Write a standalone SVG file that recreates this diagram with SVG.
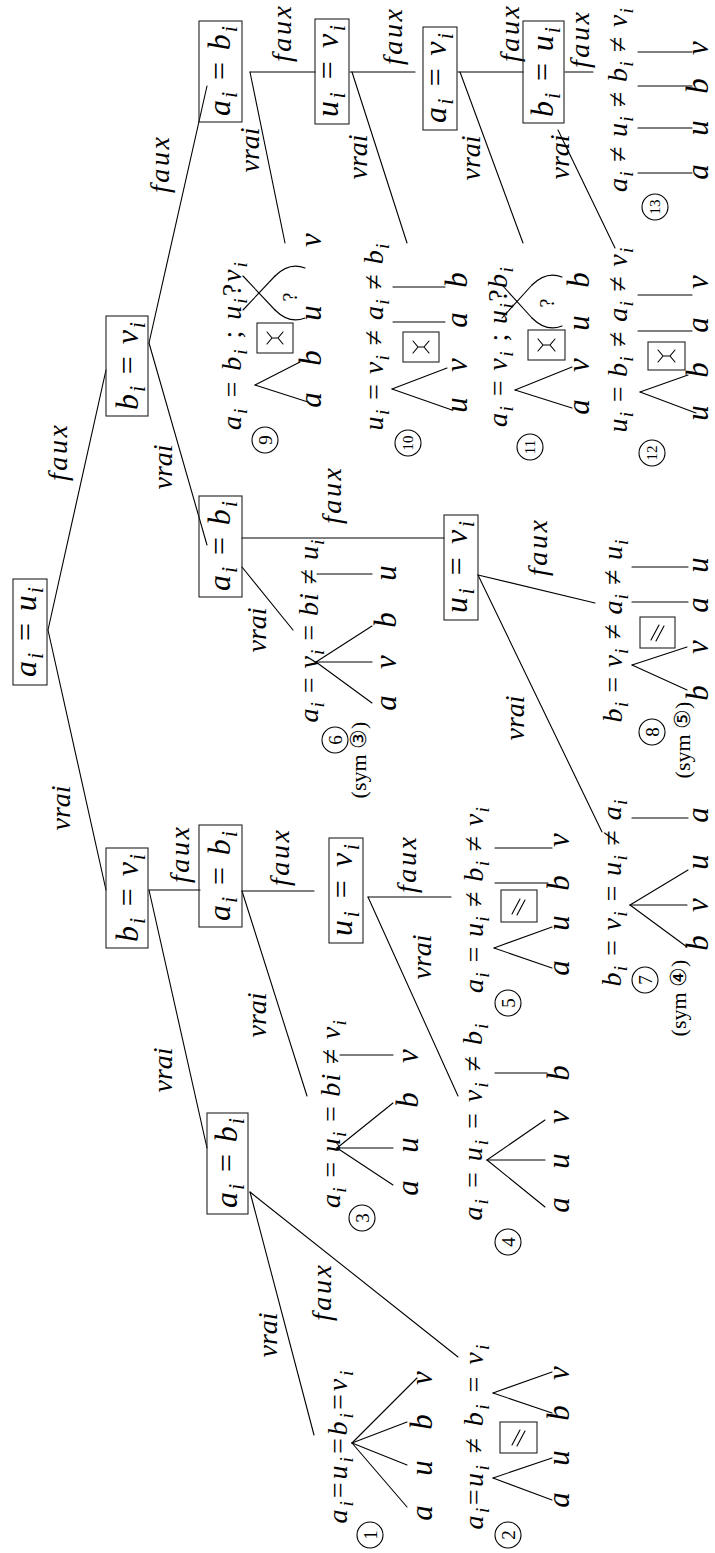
<svg xmlns="http://www.w3.org/2000/svg" width="715" height="1553" viewBox="0 0 715 1553">
<style>
text{font-family:"Liberation Serif","DejaVu Serif",serif;fill:#000;text-anchor:middle}
.m{font-style:italic;font-size:32px}
.e{font-style:italic;font-size:28px}
.l{font-style:italic;font-size:28px}
.L{font-style:italic;font-size:31px}
.s{font-size:70%}
.o{font-style:normal}
.q{font-style:normal;font-size:20px}
.sym{font-style:normal;font-size:22px}
.n{font-style:normal;font-size:19px}
.n2{font-style:normal;font-size:15px}
.box{fill:none;stroke:#222;stroke-width:1.1}
.ln{stroke:#000;stroke-width:1.1;fill:none;stroke-linecap:round}
.c{fill:none;stroke:#000;stroke-width:1.1}
</style>

<g id="connectors" class="ln">
<line x1="48" y1="630" x2="106" y2="890"/>
<line x1="48" y1="630" x2="106" y2="370"/>
<line x1="149" y1="343" x2="207" y2="86"/>
<line x1="149" y1="343" x2="207" y2="545"/>
<line x1="149" y1="890" x2="200" y2="890"/>
<line x1="149" y1="890" x2="207" y2="1148"/>
<line x1="250" y1="72" x2="315" y2="72"/>
<line x1="250" y1="72" x2="285" y2="243"/>
<line x1="350" y1="72" x2="415" y2="72"/>
<line x1="352" y1="72" x2="407" y2="243"/>
<line x1="458" y1="72" x2="523" y2="72"/>
<line x1="460" y1="72" x2="523" y2="243"/>
<line x1="565" y1="72" x2="593" y2="72"/>
<line x1="558" y1="130" x2="615" y2="248"/>
<line x1="242" y1="538" x2="444" y2="538"/>
<line x1="242" y1="567" x2="293" y2="630"/>
<line x1="478" y1="575" x2="595" y2="603"/>
<line x1="478" y1="575" x2="602" y2="832"/>
<line x1="242" y1="891" x2="314" y2="891"/>
<line x1="242" y1="891" x2="307" y2="1096"/>
<line x1="368" y1="897" x2="451" y2="897"/>
<line x1="368" y1="897" x2="458" y2="1096"/>
<line x1="250" y1="1192" x2="314" y2="1435"/>
<line x1="250" y1="1192" x2="458" y2="1357"/>
</g>

<g id="edge-labels" class="e">
<text transform="translate(67 453) rotate(-90)" textLength="56" lengthAdjust="spacing">faux</text>
<text transform="translate(70 808) rotate(-90)">vrai</text>
<text transform="translate(169 165) rotate(-90)" textLength="56" lengthAdjust="spacing">faux</text>
<text transform="translate(172 467) rotate(-90)">vrai</text>
<text transform="translate(189 855) rotate(-90)" textLength="56" lengthAdjust="spacing">faux</text>
<text transform="translate(172 1070) rotate(-90)">vrai</text>
<text transform="translate(291 34) rotate(-90)" textLength="56" lengthAdjust="spacing">faux</text>
<text transform="translate(259 150) rotate(-90)">vrai</text>
<text transform="translate(402 37) rotate(-90)" textLength="56" lengthAdjust="spacing">faux</text>
<text transform="translate(367 157) rotate(-90)">vrai</text>
<text transform="translate(519 34) rotate(-90)" textLength="56" lengthAdjust="spacing">faux</text>
<text transform="translate(480 158) rotate(-90)">vrai</text>
<text transform="translate(589 40) rotate(-90)" textLength="56" lengthAdjust="spacing">faux</text>
<text transform="translate(569 157) rotate(-90)">vrai</text>
<text transform="translate(341 496) rotate(-90)" textLength="56" lengthAdjust="spacing">faux</text>
<text transform="translate(266 630) rotate(-90)">vrai</text>
<text transform="translate(547 548) rotate(-90)" textLength="56" lengthAdjust="spacing">faux</text>
<text transform="translate(524 718) rotate(-90)">vrai</text>
<text transform="translate(289 858) rotate(-90)" textLength="56" lengthAdjust="spacing">faux</text>
<text transform="translate(266 1015) rotate(-90)">vrai</text>
<text transform="translate(416 865) rotate(-90)" textLength="56" lengthAdjust="spacing">faux</text>
<text transform="translate(431 957) rotate(-90)">vrai</text>
<text transform="translate(277 1335) rotate(-90)">vrai</text>
<text transform="translate(331 1293) rotate(-90)" textLength="56" lengthAdjust="spacing">faux</text>
</g>

<g id="n0"><rect class="box" x="13" y="579" width="34" height="106"/>
<text class="m" transform="translate(36 632) rotate(-90)" textLength="90" lengthAdjust="spacing">a<tspan class="s" dy="7">i</tspan><tspan class="o" dy="-7"> = </tspan>u<tspan class="s" dy="7">i</tspan></text></g>
<g id="n1"><rect class="box" x="106" y="848" width="42" height="100"/>
<text class="m" transform="translate(138 898) rotate(-90)" textLength="88" lengthAdjust="spacing">b<tspan class="s" dy="7">i</tspan><tspan class="o" dy="-7"> = </tspan>v<tspan class="s" dy="7">i</tspan></text></g>
<g id="n2"><rect class="box" x="106" y="316" width="42" height="100"/>
<text class="m" transform="translate(138 366) rotate(-90)" textLength="88" lengthAdjust="spacing">b<tspan class="s" dy="7">i</tspan><tspan class="o" dy="-7"> = </tspan>v<tspan class="s" dy="7">i</tspan></text></g>
<g id="n3"><rect class="box" x="199" y="21" width="43" height="101"/>
<text class="m" transform="translate(230 71) rotate(-90)" textLength="90" lengthAdjust="spacing">a<tspan class="s" dy="7">i</tspan><tspan class="o" dy="-7"> = </tspan>b<tspan class="s" dy="7">i</tspan></text></g>
<g id="n4"><rect class="box" x="199" y="496" width="43" height="101"/>
<text class="m" transform="translate(230 546) rotate(-90)" textLength="90" lengthAdjust="spacing">a<tspan class="s" dy="7">i</tspan><tspan class="o" dy="-7"> = </tspan>b<tspan class="s" dy="7">i</tspan></text></g>
<g id="n5"><rect class="box" x="199" y="825" width="43" height="102"/>
<text class="m" transform="translate(230 876) rotate(-90)" textLength="90" lengthAdjust="spacing">a<tspan class="s" dy="7">i</tspan><tspan class="o" dy="-7"> = </tspan>b<tspan class="s" dy="7">i</tspan></text></g>
<g id="n6"><rect class="box" x="207" y="1113" width="41" height="101"/>
<text class="m" transform="translate(237 1163) rotate(-90)" textLength="90" lengthAdjust="spacing">a<tspan class="s" dy="7">i</tspan><tspan class="o" dy="-7"> = </tspan>b<tspan class="s" dy="7">i</tspan></text></g>
<g id="n7"><rect class="box" x="329" y="838" width="34" height="105"/>
<text class="m" transform="translate(352 890) rotate(-90)" textLength="92" lengthAdjust="spacing">u<tspan class="s" dy="7">i</tspan><tspan class="o" dy="-7"> = </tspan>v<tspan class="s" dy="7">i</tspan></text></g>
<g id="n8"><rect class="box" x="444" y="515" width="34" height="105"/>
<text class="m" transform="translate(467 567) rotate(-90)" textLength="92" lengthAdjust="spacing">u<tspan class="s" dy="7">i</tspan><tspan class="o" dy="-7"> = </tspan>v<tspan class="s" dy="7">i</tspan></text></g>
<g id="n9"><rect class="box" x="315" y="19" width="34" height="105"/>
<text class="m" transform="translate(338 71) rotate(-90)" textLength="92" lengthAdjust="spacing">u<tspan class="s" dy="7">i</tspan><tspan class="o" dy="-7"> = </tspan>v<tspan class="s" dy="7">i</tspan></text></g>
<g id="n10"><rect class="box" x="423" y="27" width="34" height="103"/>
<text class="m" transform="translate(446 78) rotate(-90)" textLength="90" lengthAdjust="spacing">a<tspan class="s" dy="7">i</tspan><tspan class="o" dy="-7"> = </tspan>v<tspan class="s" dy="7">i</tspan></text></g>
<g id="n11"><rect class="box" x="523" y="21" width="41" height="102"/>
<text class="m" transform="translate(553 72) rotate(-90)" textLength="90" lengthAdjust="spacing">b<tspan class="s" dy="7">i</tspan><tspan class="o" dy="-7"> = </tspan>u<tspan class="s" dy="7">i</tspan></text></g>

<g id="leaf1">
<text class="l" transform="translate(347 1447) rotate(-90)" textLength="153" lengthAdjust="spacing">a<tspan class="s" dy="6">i</tspan><tspan class="o" dy="-6">=</tspan>u<tspan class="s" dy="6">i</tspan><tspan class="o" dy="-6">=</tspan>b<tspan class="s" dy="6">i</tspan><tspan class="o" dy="-6">=</tspan>v<tspan class="s" dy="6">i</tspan></text>
<g class="ln"><line x1="352" y1="1443" x2="407" y2="1507"/><line x1="352" y1="1443" x2="407" y2="1465"/><line x1="352" y1="1443" x2="407" y2="1422"/><line x1="352" y1="1443" x2="417" y2="1378"/></g>
<g class="L"><text transform="translate(432 1513) rotate(-90)">a</text><text transform="translate(432 1468) rotate(-90)">u</text><text transform="translate(432 1422) rotate(-90)">b</text><text transform="translate(432 1378) rotate(-90)">v</text></g>
<circle class="c" cx="370" cy="1535" r="13"/><text class="n" transform="translate(377 1535) rotate(-90)">1</text>
</g>

<g id="leaf2">
<text class="l" transform="translate(483 1437) rotate(-90)" textLength="185" lengthAdjust="spacing">a<tspan class="s" dy="6">i</tspan><tspan class="o" dy="-6">=</tspan>u<tspan class="s" dy="6">i</tspan><tspan class="o" dy="-6"> ≠ </tspan>b<tspan class="s" dy="6">i</tspan><tspan class="o" dy="-6"> = </tspan>v<tspan class="s" dy="6">i</tspan></text>
<g class="ln"><line x1="493" y1="1478" x2="552" y2="1500"/><line x1="493" y1="1478" x2="552" y2="1458"/><line x1="493" y1="1393" x2="552" y2="1413"/><line x1="493" y1="1393" x2="552" y2="1372"/></g>
<rect class="box" x="500" y="1422" width="37" height="31"/><path class="ln" d="M512 1445 L520 1430 M517 1446 L525 1431"/>
<g class="L"><text transform="translate(569 1500) rotate(-90)">a</text><text transform="translate(569 1458) rotate(-90)">u</text><text transform="translate(569 1413) rotate(-90)">b</text><text transform="translate(569 1373) rotate(-90)">v</text></g>
<circle class="c" cx="508" cy="1535" r="13"/><text class="n" transform="translate(515 1535) rotate(-90)">2</text>
</g>

<g id="leaf3">
<text class="l" transform="translate(340 1114) rotate(-90)" textLength="188" lengthAdjust="spacing">a<tspan class="s" dy="6">i</tspan><tspan class="o" dy="-6"> = </tspan>u<tspan class="s" dy="6">i</tspan><tspan class="o" dy="-6"> = </tspan>bi<tspan class="o"> ≠ </tspan>v<tspan class="s" dy="6">i</tspan></text>
<g class="ln"><line x1="337" y1="1148" x2="393" y2="1185"/><line x1="337" y1="1148" x2="393" y2="1148"/><line x1="337" y1="1148" x2="393" y2="1103"/><line x1="340" y1="1055" x2="393" y2="1055"/></g>
<g class="L"><text transform="translate(418 1188) rotate(-90)">a</text><text transform="translate(418 1145) rotate(-90)">u</text><text transform="translate(418 1100) rotate(-90)">b</text><text transform="translate(418 1056) rotate(-90)">v</text></g>
<circle class="c" cx="362" cy="1218" r="13"/><text class="n" transform="translate(369 1218) rotate(-90)">3</text>
</g>

<g id="leaf4">
<text class="l" transform="translate(482 1122) rotate(-90)" textLength="197" lengthAdjust="spacing">a<tspan class="s" dy="6">i</tspan><tspan class="o" dy="-6"> = </tspan>u<tspan class="s" dy="6">i</tspan><tspan class="o" dy="-6"> = </tspan>v<tspan class="s" dy="6">i</tspan><tspan class="o" dy="-6"> ≠ </tspan>b<tspan class="s" dy="6">i</tspan></text>
<g class="ln"><line x1="487" y1="1160" x2="545" y2="1207"/><line x1="487" y1="1160" x2="545" y2="1160"/><line x1="487" y1="1160" x2="545" y2="1120"/><line x1="495" y1="1073" x2="547" y2="1073"/></g>
<g class="L"><text transform="translate(569 1205) rotate(-90)">a</text><text transform="translate(569 1161) rotate(-90)">u</text><text transform="translate(569 1117) rotate(-90)">v</text><text transform="translate(569 1073) rotate(-90)">b</text></g>
<circle class="c" cx="508" cy="1242" r="13"/><text class="n" transform="translate(515 1242) rotate(-90)">4</text>
</g>

<g id="leaf5">
<text class="l" transform="translate(483 900) rotate(-90)" textLength="186" lengthAdjust="spacing">a<tspan class="s" dy="6">i</tspan><tspan class="o" dy="-6"> = </tspan>u<tspan class="s" dy="6">i</tspan><tspan class="o" dy="-6"> ≠ </tspan>b<tspan class="s" dy="6">i</tspan><tspan class="o" dy="-6"> ≠ </tspan>v<tspan class="s" dy="6">i</tspan></text>
<g class="ln"><line x1="494" y1="948" x2="552" y2="968"/><line x1="494" y1="948" x2="552" y2="927"/><line x1="495" y1="883" x2="548" y2="883"/><line x1="495" y1="848" x2="552" y2="848"/></g>
<rect class="box" x="501" y="890" width="36" height="32"/><path class="ln" d="M512 914 L520 899 M517 915 L525 900"/>
<g class="L"><text transform="translate(569 968) rotate(-90)">a</text><text transform="translate(569 923) rotate(-90)">u</text><text transform="translate(569 883) rotate(-90)">b</text><text transform="translate(569 840) rotate(-90)">v</text></g>
<circle class="c" cx="508" cy="1003" r="13"/><text class="n" transform="translate(515 1003) rotate(-90)">5</text>
</g>

<g id="leaf6">
<text class="l" transform="translate(318 631) rotate(-90)" textLength="183" lengthAdjust="spacing">a<tspan class="s" dy="6">i</tspan><tspan class="o" dy="-6"> = </tspan>v<tspan class="s" dy="6">i</tspan><tspan class="o" dy="-6"> = </tspan>bi<tspan class="o"> ≠ </tspan>u<tspan class="s" dy="6">i</tspan></text>
<g class="ln"><line x1="316" y1="662" x2="372" y2="703"/><line x1="316" y1="662" x2="372" y2="662"/><line x1="316" y1="662" x2="372" y2="626"/><line x1="317" y1="574" x2="372" y2="574"/></g>
<g class="L"><text transform="translate(396 703) rotate(-90)">a</text><text transform="translate(396 662) rotate(-90)">v</text><text transform="translate(396 620) rotate(-90)">b</text><text transform="translate(396 573) rotate(-90)">u</text></g>
<circle class="c" cx="335" cy="740" r="13"/><text class="n" transform="translate(342 740) rotate(-90)">6</text>
<text class="sym" transform="translate(366 760) rotate(-90)">(sym ③)</text>
</g>

<g id="leaf7">
<text class="l" transform="translate(621 893) rotate(-90)" textLength="187" lengthAdjust="spacing">b<tspan class="s" dy="6">i</tspan><tspan class="o" dy="-6"> = </tspan>v<tspan class="s" dy="6">i</tspan><tspan class="o" dy="-6"> = </tspan>u<tspan class="s" dy="6">i</tspan><tspan class="o" dy="-6"> ≠ </tspan>a<tspan class="s" dy="6">i</tspan></text>
<g class="ln"><line x1="630" y1="905" x2="687" y2="947"/><line x1="630" y1="905" x2="687" y2="905"/><line x1="630" y1="905" x2="688" y2="870"/><line x1="632" y1="818" x2="688" y2="818"/></g>
<g class="L"><text transform="translate(708 943) rotate(-90)">b</text><text transform="translate(708 905) rotate(-90)">v</text><text transform="translate(708 862) rotate(-90)">u</text><text transform="translate(708 815) rotate(-90)">a</text></g>
<circle class="c" cx="645" cy="980" r="13"/><text class="n" transform="translate(652 980) rotate(-90)">7</text>
<text class="sym" transform="translate(686 998) rotate(-90)">(sym ④)</text>
</g>

<g id="leaf8">
<text class="l" transform="translate(622 631) rotate(-90)" textLength="183" lengthAdjust="spacing">b<tspan class="s" dy="6">i</tspan><tspan class="o" dy="-6"> = </tspan>v<tspan class="s" dy="6">i</tspan><tspan class="o" dy="-6"> ≠ </tspan>a<tspan class="s" dy="6">i</tspan><tspan class="o" dy="-6"> ≠ </tspan>u<tspan class="s" dy="6">i</tspan></text>
<g class="ln"><line x1="632" y1="665" x2="687" y2="690"/><line x1="632" y1="665" x2="687" y2="647"/><line x1="632" y1="602" x2="688" y2="602"/><line x1="632" y1="567" x2="688" y2="567"/></g>
<rect class="box" x="640" y="617" width="35" height="31"/><path class="ln" d="M651 640 L659 625 M656 641 L664 626"/>
<g class="L"><text transform="translate(708 693) rotate(-90)">b</text><text transform="translate(708 647) rotate(-90)">v</text><text transform="translate(708 605) rotate(-90)">a</text><text transform="translate(708 565) rotate(-90)">u</text></g>
<circle class="c" cx="652" cy="732" r="13"/><text class="n" transform="translate(659 732) rotate(-90)">8</text>
<text class="sym" transform="translate(690 740) rotate(-90)">(sym ⑤)</text>
</g>

<g id="leaf9">
<text class="l" transform="translate(241 346) rotate(-90)" textLength="168" lengthAdjust="spacing">a<tspan class="s" dy="6">i</tspan><tspan class="o" dy="-6"> = </tspan>b<tspan class="s" dy="6">i</tspan><tspan class="o" dy="-6"> ;  </tspan>u<tspan class="s" dy="6">i</tspan><tspan class="o" dy="-6">?</tspan>v<tspan class="s" dy="6">i</tspan></text>
<g class="ln"><line x1="255" y1="385" x2="308" y2="402"/><line x1="255" y1="385" x2="300" y2="362"/>
<line x1="243" y1="276" x2="275" y2="310"/><line x1="243" y1="310" x2="275" y2="276"/>
<path d="M275 310 C285 320 295 322 305 318"/><path d="M275 276 C285 266 295 264 305 268"/></g>
<rect class="box" x="257" y="323" width="36" height="30"/><path class="ln" d="M267 332 L272 338 L267 344 M283 332 L278 338 L283 344 M272 338 L278 338"/>
<text class="q" transform="translate(297 297) rotate(-90)">?</text>
<g class="L"><text transform="translate(321 400) rotate(-90)">a</text><text transform="translate(321 358) rotate(-90)">b</text><text transform="translate(321 313) rotate(-90)">u</text><text transform="translate(321 240) rotate(-90)">v</text></g>
<circle class="c" cx="265" cy="440" r="13"/><text class="n" transform="translate(272 440) rotate(-90)">9</text>
</g>

<g id="leaf10">
<text class="l" transform="translate(383 337) rotate(-90)" textLength="187" lengthAdjust="spacing">u<tspan class="s" dy="6">i</tspan><tspan class="o" dy="-6"> = </tspan>v<tspan class="s" dy="6">i</tspan><tspan class="o" dy="-6"> ≠ </tspan>a<tspan class="s" dy="6">i</tspan><tspan class="o" dy="-6"> ≠ </tspan>b<tspan class="s" dy="6">i</tspan></text>
<g class="ln"><line x1="392" y1="389" x2="452" y2="410"/><line x1="392" y1="389" x2="447" y2="368"/><line x1="393" y1="322" x2="445" y2="322"/><line x1="393" y1="287" x2="445" y2="287"/></g>
<rect class="box" x="403" y="332" width="36" height="30"/><path class="ln" d="M413 341 L418 347 L413 353 M429 341 L424 347 L429 353 M418 347 L424 347"/>
<g class="L"><text transform="translate(467 405) rotate(-90)">u</text><text transform="translate(467 365) rotate(-90)">v</text><text transform="translate(467 320) rotate(-90)">a</text><text transform="translate(467 280) rotate(-90)">b</text></g>
<circle class="c" cx="408" cy="443" r="13"/><text class="n2" transform="translate(413 443) rotate(-90)">10</text>
</g>

<g id="leaf11">
<text class="l" transform="translate(507 347) rotate(-90)" textLength="160" lengthAdjust="spacing">a<tspan class="s" dy="6">i</tspan><tspan class="o" dy="-6"> = </tspan>v<tspan class="s" dy="6">i</tspan><tspan class="o" dy="-6"> ;  </tspan>u<tspan class="s" dy="6">i</tspan><tspan class="o" dy="-6">?</tspan>b<tspan class="s" dy="6">i</tspan></text>
<g class="ln"><line x1="515" y1="390" x2="572" y2="408"/><line x1="515" y1="390" x2="572" y2="367"/>
<line x1="502" y1="285" x2="532" y2="318"/><line x1="502" y1="318" x2="532" y2="285"/>
<path d="M532 318 C542 328 552 330 562 326"/><path d="M532 285 C542 275 552 273 562 277"/></g>
<rect class="box" x="528" y="330" width="37" height="30"/><path class="ln" d="M538 339 L543 345 L538 351 M555 339 L550 345 L555 351 M543 345 L550 345"/>
<text class="q" transform="translate(554 303) rotate(-90)">?</text>
<g class="L"><text transform="translate(589 407) rotate(-90)">a</text><text transform="translate(589 365) rotate(-90)">v</text><text transform="translate(589 323) rotate(-90)">u</text><text transform="translate(589 280) rotate(-90)">b</text></g>
<circle class="c" cx="530" cy="447" r="13"/><text class="n2" transform="translate(535 447) rotate(-90)">11</text>
</g>

<g id="leaf12">
<text class="l" transform="translate(627 340) rotate(-90)" textLength="185" lengthAdjust="spacing">u<tspan class="s" dy="6">i</tspan><tspan class="o" dy="-6"> = </tspan>b<tspan class="s" dy="6">i</tspan><tspan class="o" dy="-6"> ≠ </tspan>a<tspan class="s" dy="6">i</tspan><tspan class="o" dy="-6"> ≠ </tspan>v<tspan class="s" dy="6">i</tspan></text>
<g class="ln"><line x1="640" y1="392" x2="696" y2="413"/><line x1="640" y1="392" x2="688" y2="375"/><line x1="638" y1="331" x2="692" y2="331"/><line x1="638" y1="295" x2="692" y2="295"/></g>
<rect class="box" x="648" y="342" width="37" height="28"/><path class="ln" d="M658 350 L663 356 L658 362 M675 350 L670 356 L675 362 M663 356 L670 356"/>
<g class="L"><text transform="translate(708 413) rotate(-90)">u</text><text transform="translate(708 370) rotate(-90)">b</text><text transform="translate(708 325) rotate(-90)">a</text><text transform="translate(708 282) rotate(-90)">v</text></g>
<circle class="c" cx="652" cy="453" r="13"/><text class="n2" transform="translate(657 453) rotate(-90)">12</text>
</g>

<g id="leaf13">
<text class="l" transform="translate(627 100) rotate(-90)" textLength="184" lengthAdjust="spacing">a<tspan class="s" dy="6">i</tspan><tspan class="o" dy="-6"> ≠ </tspan>u<tspan class="s" dy="6">i</tspan><tspan class="o" dy="-6"> ≠ </tspan>b<tspan class="s" dy="6">i</tspan><tspan class="o" dy="-6"> ≠ </tspan>v<tspan class="s" dy="6">i</tspan></text>
<g class="ln"><line x1="638" y1="173" x2="692" y2="173"/><line x1="638" y1="128" x2="692" y2="128"/><line x1="638" y1="86" x2="692" y2="86"/><line x1="638" y1="52" x2="692" y2="52"/></g>
<g class="L"><text transform="translate(708 172) rotate(-90)">a</text><text transform="translate(708 128) rotate(-90)">u</text><text transform="translate(708 86) rotate(-90)">b</text><text transform="translate(708 48) rotate(-90)">v</text></g>
<circle class="c" cx="655" cy="207" r="13"/><text class="n2" transform="translate(660 207) rotate(-90)">13</text>
</g>
</svg>
